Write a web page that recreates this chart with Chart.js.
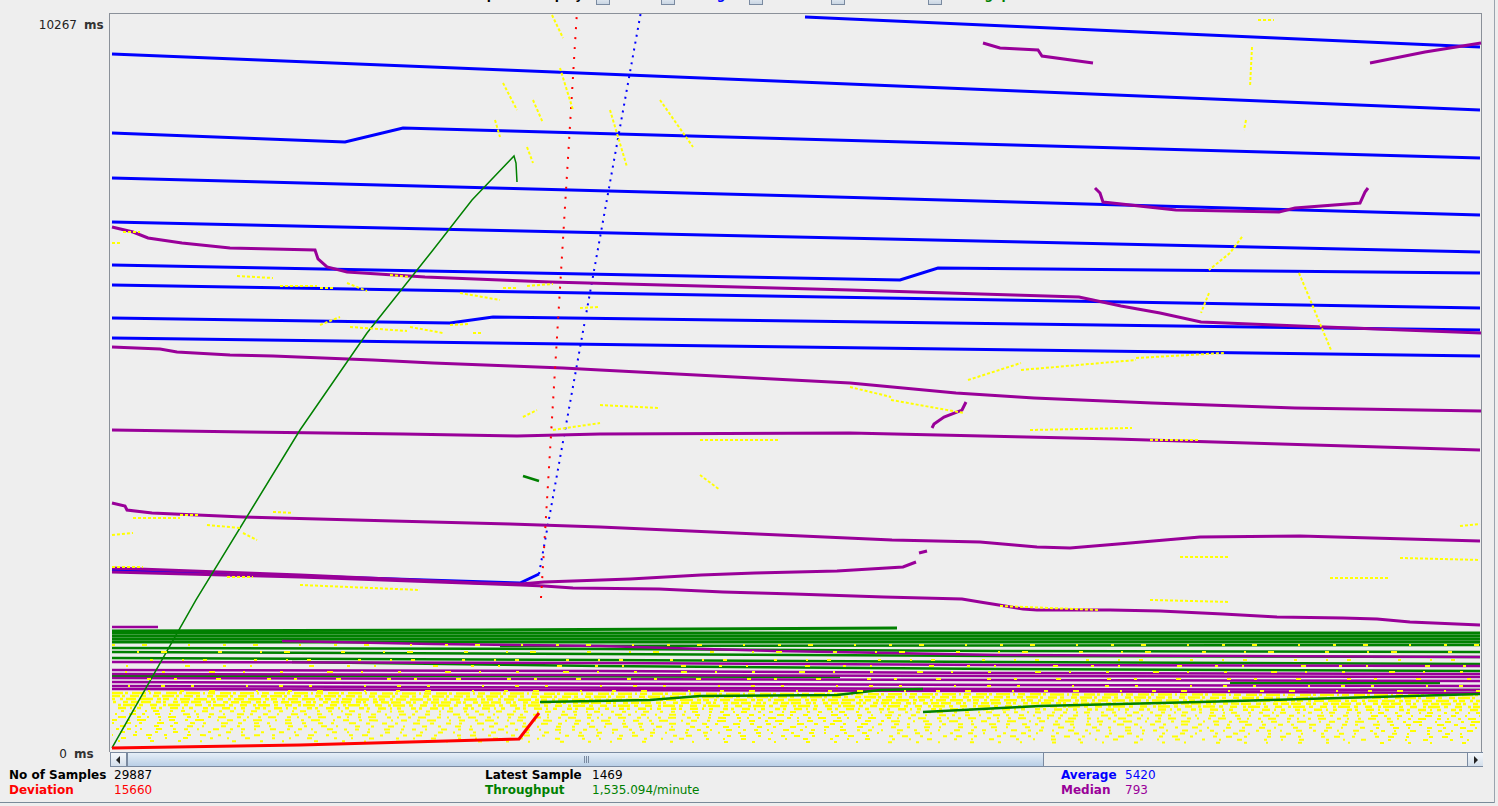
<!DOCTYPE html>
<html>
<head>
<meta charset="utf-8">
<script src="https://cdn.jsdelivr.net/npm/chart.js@4.4.1/dist/chart.umd.min.js"></script>
<style>
  html,body{margin:0;padding:0;}
  body{width:1498px;height:806px;background:#eeeeee;position:relative;overflow:hidden;font-family:"DejaVu Sans",sans-serif;font-size:12px;}
  .abs{position:absolute;white-space:nowrap;}
  .b{font-weight:bold;}
  .cb{position:absolute;top:-9px;width:12px;height:12px;border:1px solid #7a8aa0;background:linear-gradient(#ffffff,#c9d5e3);}
  #frame{position:absolute;left:109px;top:13px;width:1373px;height:739px;border-top:1px solid #8a9099;border-left:1px solid #8a9099;border-right:1px solid #8a9099;box-sizing:border-box;}
  #plot{position:absolute;left:110px;top:14px;}
  #sb{position:absolute;left:110px;top:752px;width:1373px;height:15px;background:#eeeeee;border:1px solid #7a8aa0;box-sizing:border-box;}
  .btn{position:absolute;top:0;width:15px;height:13px;background:linear-gradient(#f4f7fb,#d4dfeb);border-right:1px solid #7a8aa0;}
  #thumb{position:absolute;left:16px;top:0;width:917px;height:13px;background:linear-gradient(#e6eef7,#b9cfe6);border-left:1px solid #7a8aa0;border-right:1px solid #7a8aa0;box-sizing:border-box;}
  .grip{position:absolute;top:3px;width:1px;height:7px;background:#7a8aa0;}
</style>
</head>
<body>
<div id="hdr"></div>
<div id="ylab"></div>
<div id="frame"></div>
<canvas id="plot" width="1372" height="737"></canvas>
<div id="sb">
  <div class="btn" style="left:0"><div style="position:absolute;left:5px;top:3px;width:0;height:0;border-top:4px solid transparent;border-bottom:4px solid transparent;border-right:4px solid #222;"></div></div>
  <div id="thumb"><div class="grip" style="left:456px"></div><div class="grip" style="left:458px"></div><div class="grip" style="left:460px"></div></div>
  <div class="btn" style="left:1356px;border-right:none;border-left:1px solid #7a8aa0"><div style="position:absolute;left:6px;top:3px;width:0;height:0;border-top:4px solid transparent;border-bottom:4px solid transparent;border-left:4px solid #222;"></div></div>
</div>
<div id="stats"></div>
<div class="abs" style="left:0;top:802px;width:1495px;height:1px;background:#7a8a99"></div>
<div class="abs" style="left:1494px;top:0;width:1px;height:803px;background:#9aa4ae"></div>
<script>
// ---------------- DATA (x = sample index across the wrapped panel, y = ms) ----------------
const yMax = 10267;
const xSpan = 1372;
const yTickLabels = ['10267', '0'];
const yTickUnit = 'ms';
const legendItems = ['Data', 'Average', 'Median', 'Deviation', 'Throughput'];

// Average (blue) passes
const averagePasses = [
  [[695,10225],[1030,10016],[1370,9807]],
  [[2,9710],[690,9320],[1370,8930]],
  [[2,8609],[235,8484],[293,8679],[1370,8261]],
  [[2,7982],[690,7732],[1370,7467]],
  [[2,7370],[1370,6952]],
  [[2,6770],[790,6562],[828,6729],[1370,6659]],
  [[2,6492],[1370,6171]],
  [[2,6032],[340,5962],[383,6046],[1370,5865]],
  [[2,5754],[1370,5503]],
  [[2,2522],[190,2438],[410,2340],[429,2466]]
];
const averageRamp = [[429,2466],[534,10532]];

// Median (purple) passes
const medianPasses = [
  [[873,9863],[890,9794],[928,9766],[932,9682],[983,9585]],
  [[1260,9585],[1315,9738],[1371,9863]],
  [[985,7843],[990,7773],[993,7648],[1066,7537],[1169,7509],[1185,7565],[1250,7634],[1255,7787],[1258,7843]],
  [[2,7300],[23,7230],[38,7147],[72,7077],[120,7007],[205,6979],[208,6854],[217,6743],[237,6673],[315,6603],[440,6534],[740,6422],[969,6325],[1011,6199],[1050,6102],[1091,5976],[1189,5921],[1371,5823]],
  [[2,5628],[50,5600],[67,5558],[120,5517],[163,5503],[263,5447],[323,5405],[453,5336],[490,5308],[740,5127],[846,4987],[924,4918],[1042,4848],[1185,4778],[1371,4737]],
  [[822,4500],[824,4555],[834,4653],[852,4750],[856,4862]],
  [[2,4472],[137,4444],[293,4416],[407,4388],[490,4416],[740,4430],[1005,4346],[1370,4193]],
  [[2,3455],[15,3413],[17,3357],[42,3316],[133,3260],[283,3204],[400,3162],[490,3121],[782,2939],[870,2912],[927,2842],[960,2828],[1020,2898],[1090,2981],[1190,2995],[1370,2926]],
  [[2,2549],[190,2452],[370,2340],[411,2326],[434,2354],[520,2396],[591,2452],[645,2480],[727,2508],[793,2563],[806,2633]],
  [[809,2758],[817,2786]],
  [[2,2494],[190,2424],[411,2313],[434,2299],[463,2271],[549,2257],[613,2215],[684,2187],[774,2145],[852,2118],[870,2076],[895,2020],[913,1978],[927,1964],[1000,1964],[1050,1950],[1113,1909],[1167,1867],[1233,1853],[1267,1839],[1300,1797],[1370,1755]]
];
const medianBand = [
  [[2,1727],[48,1727]],
  [[172,1532],[323,1491],[490,1463],[666,1393],[890,1337],[1370,1310]],
  [[2,1240],[490,1226],[890,1198],[1370,1184]],
  [[2,1128],[490,1114],[890,1087],[1370,1073]],
  [[2,1073],[890,1045],[1370,1031]],
  [[2,1017],[890,989],[1370,975]],
  [[2,961],[890,919],[1370,906]],
  [[2,906],[890,864],[1370,850]],
  [[2,864],[890,836],[1370,808]]
];

// Deviation (red)
const deviationBase = [[2,42],[190,84],[409,167],[429,529]];
const deviationRamp = [[431,2131],[468,10532]];

// Throughput (green)
const throughputRamp = [[2,42],[86,2104],[190,4472],[257,5823],[323,6979],[362,7676],[404,8289],[406,8191],[407,7927]];
const throughputDrop = [[413,3831],[429,3761]];
const throughputLow1 = [[430,683],[540,710],[590,766],[727,780],[770,850],[813,864]];
const throughputLow2 = [[813,543],[930,627],[1090,683],[1370,794]];
const throughputBand = [
  [[2,1672],[370,1686],[787,1714]],
  [[2,1644],[1370,1644]],
  [[2,1602],[1370,1602]],
  [[2,1560],[1370,1560]],
  [[2,1518],[1370,1518]],
  [[390,1463],[1370,1477]],
  [[2,1435],[490,1421],[890,1393],[1370,1379]],
  [[2,1379],[490,1351],[890,1323],[1370,1310]],
  [[2,1296],[490,1268],[890,1240],[1370,1212]],
  [[182,1240],[490,1184],[890,1142],[1370,1114]],
  [[2,1045],[390,1045],[730,1031]],
  [[1120,947],[1330,947]],
  [[1250,850],[1370,850]]
];

// Data samples (yellow): dense low band rows [xStart, msStart, xEnd, msEnd]
const dataDenseRows = [
  [2,808,1370,780],[2,766,1370,738],[2,724,1370,696],[2,683,1370,655],
  [2,641,1370,613],[2,599,1370,571],[2,557,1370,529],[2,515,1370,487],
  [2,474,1370,446],[2,432,1370,404],[2,390,1370,362],[2,348,1370,320],
  [2,306,1370,278],[2,265,1370,237],[2,223,1370,195],[2,181,1370,153],[2,139,1370,111]
];
// sparse sample bits lying over the median/throughput band (ms levels)
const dataBandBits = [1477,1379,1268,1184,1101,1003,906,836];
// scattered sample traces [x1, ms1, x2, ms2]
const dataTraces = [
  [2,7077,12,7077],[13,7230,30,7230],[127,6617,163,6589],[170,6478,207,6478],[210,6450,223,6450],
  [237,6520,257,6408],[280,6631,300,6603],[350,6380,390,6283],[393,6450,407,6450],[417,6478,443,6506],
  [470,6171,490,6185],[210,5935,230,6046],[240,5907,297,5851],[300,5907,333,5823],[340,5935,360,5949],
  [363,5823,373,5823],[443,4472,490,4569],[413,4653,427,4750],[23,3246,70,3246],[70,3288,90,3288],
  [97,3148,130,3107],[133,3037,147,2939],[163,3330,183,3316],[2,3009,23,3037],[2,2563,33,2563],
  [117,2424,143,2424],[190,2313,310,2243],[740,5071,781,4932],[781,4890,854,4709],[858,5168,911,5405],
  [911,5308,1026,5447],[1026,5475,1115,5545],[920,4472,1022,4500],[590,4333,670,4333],[490,4820,550,4778],
  [1040,4333,1090,4333],[1070,2703,1120,2703],[1290,2689,1370,2661],[1350,3134,1370,3162],[1220,2410,1280,2410],
  [890,2020,990,1964],[1040,2104,1120,2076],[1148,10184,1164,10184],[1142,9807,1140,9250],[1136,8790,1134,8651],
  [1132,7161,1120,6938],[1120,6938,1099,6701],[1099,6380,1091,6102],[1189,6659,1221,5586],[442,10253,453,9933],
  [450,9515,463,8930],[393,9306,407,8930],[385,8790,390,8554],[423,9069,433,8749],[417,8414,423,8191],
  [500,8930,517,8136],[550,9069,583,8414],[590,3845,610,3636]
];

// Summary values
const statsLeft = [['No of Samples','29887','#000000'],['Deviation','15660','#ff0000']];
const statsMid = [['Latest Sample','1469','#000000'],['Throughput','1,535.094/minute','#008000']];
const statsRight = [['Average','5420','#0000ff'],['Median','793','#990099']];

// ---------------- HTML text ----------------
const legendColors = ['#000000','#0000ff','#990099','#ff0000','#008000'];
const legendX = [596,661,749,831,928];
let hdr = '<span class="abs b" style="left:463px;top:-12px;color:#000">Graphs to Display</span>';
legendItems.forEach((t,i)=>{
  hdr += `<div class="cb" style="left:${legendX[i]}px"></div>`;
  hdr += `<span class="abs b" style="left:${legendX[i]+17}px;top:-12px;color:${legendColors[i]}">${t}</span>`;
});
document.getElementById('hdr').innerHTML = hdr;

document.getElementById('ylab').innerHTML =
  `<span class="abs" style="right:${1498-77}px;top:18px;color:#222">${yTickLabels[0]}</span>` +
  `<span class="abs b" style="left:84px;top:18px;color:#333">${yTickUnit}</span>` +
  `<span class="abs" style="right:${1498-67}px;top:747px;color:#222">${yTickLabels[1]}</span>` +
  `<span class="abs b" style="left:74px;top:747px;color:#333">${yTickUnit}</span>`;

function statBlock(list, xl, xv){
  return list.map((s,i)=>`<span class="abs b" style="left:${xl}px;top:${768+i*15}px;color:${s[2]}">${s[0]}</span>`+
    `<span class="abs" style="left:${xv}px;top:${768+i*15}px;color:${s[2]}">${s[1]}</span>`).join('');
}
document.getElementById('stats').innerHTML =
  statBlock(statsLeft, 9, 114) + statBlock(statsMid, 485, 592) + statBlock(statsRight, 1061, 1125);

// ---------------- Chart ----------------
const pts = arr => arr.map(p => ({x:p[0], y:p[1]}));
const datasets = [];
function addLine(data, color, width, order, extra){
  datasets.push(Object.assign({data: data, borderColor: color, backgroundColor: color, borderWidth: width,
    pointRadius: 0, fill: false, tension: 0, order: order, borderCapStyle: 'butt', spanGaps: false}, extra||{}));
}
const YELLOW = '#ffff00', BLUE = '#0000ff', PURPLE = '#990099', RED = '#ff0000', GREEN = '#008000';

const densePatterns = [
  [11,2,3,4,14,3,2,3,7,5],[6,3,12,2,3,5,9,3,4,7],[13,4,4,2,6,5,3,3,10,4],
  [5,3,8,2,10,5,5,2,3,7],[7,6,3,2,12,4,4,7],[5,3,3,8,8,4,2,5,4,10],
  [4,9,2,6,6,11,3,8],[7,6,3,10,5,9,2,12],[3,7,8,11,4,6,2,9],
  [6,10,3,7,9,13,2,8],[4,12,5,8,3,15,7,10],[3,14,6,9,2,17,5,11],
  [4,9,2,14,6,11,3,8],[3,15,5,10,2,18],[6,12,3,20,4,9],[2,16,5,22,3,14],[4,24,3,19,2,30]
];
dataDenseRows.forEach((r,i)=>{
  addLine([{x:r[0],y:r[1]},{x:r[2],y:r[3]}], YELLOW, i < 6 ? 2.5 : 2, 20, {borderDash: densePatterns[i], borderDashOffset: i*13});
});
averagePasses.forEach(p => addLine(pts(p), BLUE, 3, 12));
addLine(pts(averageRamp), BLUE, 2, 12, {borderDash:[2,5]});
medianBand.forEach(p => addLine(pts(p), PURPLE, 2.5, 10));
throughputBand.forEach((p,i) => addLine(pts(p), GREEN, i<5 ? 3 : 2.5, 11));
medianPasses.forEach(p => addLine(pts(p), PURPLE, 3, 9));
addLine(pts(throughputRamp), GREEN, 1.5, 8);
addLine(pts(throughputDrop), GREEN, 2.5, 8);
addLine(pts(throughputLow1), GREEN, 2.5, 8);
addLine(pts(throughputLow2), GREEN, 2.5, 8);
addLine(pts(deviationBase), RED, 3, 7);
addLine(pts(deviationRamp), RED, 2, 7, {borderDash:[2,8]});
const bitPatterns = [[3,27,5,41,2,33],[4,38,2,22,6,51],[2,19,4,47,3,29],[5,33,3,24,2,57],
                     [3,44,6,28,2,35],[4,23,3,39,5,46],[2,31,4,26,3,52],[6,41,2,30,4,25]];
dataBandBits.forEach((v,i)=>{
  addLine([{x:2,y:v},{x:1370,y:v}], YELLOW, 2, 5, {borderDash: bitPatterns[i], borderDashOffset: i*17});
});
const traceData = [];
dataTraces.forEach(t => { traceData.push({x:t[0],y:t[1]},{x:t[2],y:t[3]},{x:t[2],y:null}); });
addLine(traceData, YELLOW, 2, 6, {borderDash:[3,2]});

new Chart(document.getElementById('plot'), {
  type: 'line',
  data: { datasets },
  options: {
    responsive: false,
    animation: false,
    layout: { padding: 0 },
    events: [],
    parsing: true,
    plugins: { legend: { display: false }, tooltip: { enabled: false } },
    scales: {
      x: { type: 'linear', min: 0, max: xSpan, display: false },
      y: { type: 'linear', min: 0, max: yMax, display: false }
    }
  }
});
</script>
</body>
</html>
